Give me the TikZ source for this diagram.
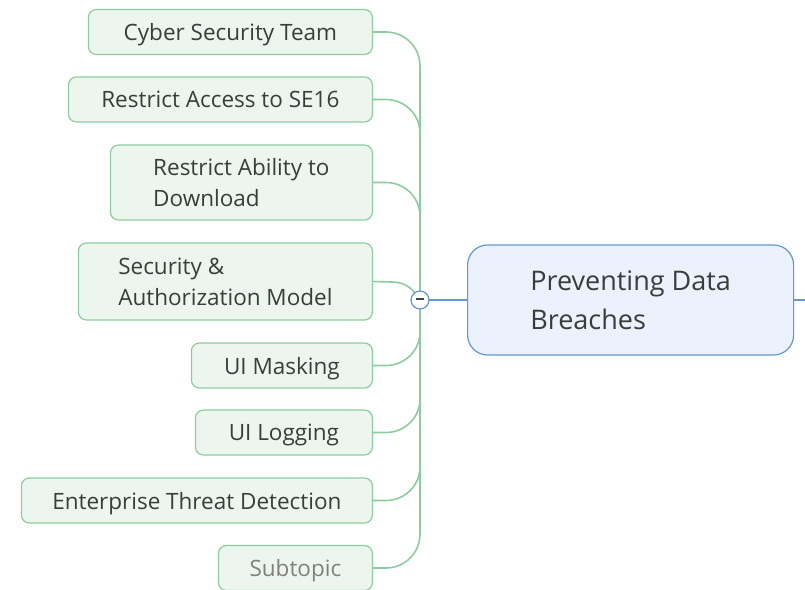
\documentclass[tikz,border=0pt]{standalone}
\usepackage{fontspec}
\setmainfont{Open Sans}
\usepackage{tikz}

\definecolor{leafgreen}{RGB}{140,205,160}
\definecolor{leaffill}{RGB}{236,246,239}
\definecolor{rootblue}{RGB}{100,150,215}
\definecolor{rootfill}{RGB}{236,242,251}
\definecolor{inkgray}{RGB}{55,62,60}

\begin{document}
\begin{tikzpicture}[x=1pt, y=1pt]
	\tikzstyle{topic}=[draw=leafgreen, fill=leaffill, rounded corners=8pt, line width=1.2pt, minimum height=45pt, anchor=east, align=left, text depth=0pt, text=inkgray, font=\fontsize{22.5}{31}\selectfont]
	\tikzstyle{central}=[draw=rootblue, fill=rootfill, rounded corners=20pt, line width=1.2pt, minimum width=326pt, minimum height=110pt, anchor=west, align=left, text=inkgray, font=\fontsize{27}{39}\selectfont]
	\tikzstyle{branch}=[draw=leafgreen, line width=1.6pt]
	\tikzstyle{rootlink}=[draw=rootblue, line width=1.4pt]
	\tikzstyle{button}=[circle, draw=rootblue, fill=white, line width=1.2pt, minimum size=18pt, inner sep=0pt]
	\useasboundingbox (0,0) rectangle (805,-589);
	% root and collapse button
	\node [central] (pdb) at (467,-300) {Preventing Data\\Breaches};
	\coordinate (hub) at (420,-300);
	\coordinate (rightend) at (806,-300);
	% subtopics
	\node [topic, minimum width=284pt] (cst) at (373,-32) {Cyber Security Team};
	\node [topic, minimum width=304pt] (rse) at (373,-99.5) {Restrict Access to SE16};
	\node [topic, minimum width=262pt, minimum height=75pt] (rad) at (373,-182.5) {Restrict Ability to\\Download};
	\node [topic, minimum width=294pt, minimum height=77pt] (sam) at (373,-281.5) {Security \&\\Authorization Model};
	\node [topic, minimum width=181pt] (uim) at (373,-365.5) {UI Masking};
	\node [topic, minimum width=177pt] (uil) at (373,-432.5) {UI Logging};
	\node [topic, minimum width=351pt] (etd) at (373,-500.5) {Enterprise Threat Detection};
	\node [topic, minimum width=154pt, text=gray] (sub) at (373,-568) {Subtopic};
	% connectors
	\draw [branch] (hub) -- (420,-66) to[out=90,in=0] (386,-32) -- (cst.east);
	\draw [branch] (hub) -- (420,-133) to[out=90,in=0] (386,-99.5) -- (rse.east);
	\draw [branch] (hub) -- (420,-216) to[out=90,in=0] (386,-182.5) -- (rad.east);
	\draw [branch] (hub) to[out=120,in=0] (392,-282) -- (sam.east);
	\draw [branch] (hub) -- (420,-332) to[out=-90,in=0] (386,-365.5) -- (uim.east);
	\draw [branch] (hub) -- (420,-399) to[out=-90,in=0] (386,-432.5) -- (uil.east);
	\draw [branch] (hub) -- (420,-467) to[out=-90,in=0] (386,-500.5) -- (etd.east);
	\draw [branch] (hub) -- (420,-534) to[out=-90,in=0] (386,-568) -- (sub.east);
	\draw [rootlink] (hub) -- (pdb.west);
	\draw [rootlink] (pdb.east) -- (rightend);
	% button on top of the trunk
	\node [button] (btn) at (hub) {\textcolor{darkgray}{\rule[2pt]{8pt}{2pt}}};
\end{tikzpicture}
\end{document}
